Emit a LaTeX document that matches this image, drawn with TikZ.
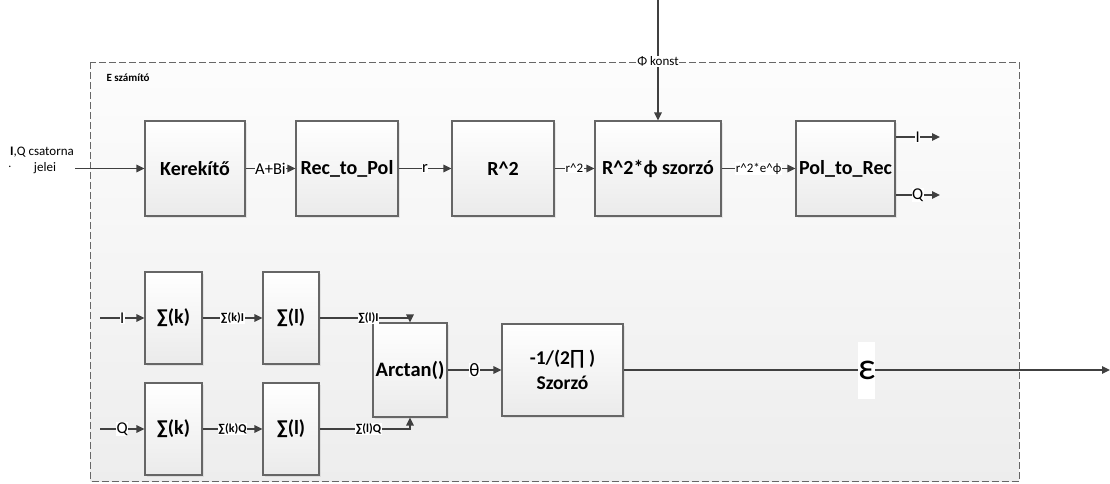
\documentclass[tikz,border=0pt]{standalone}
\usepackage{fontspec}
\setmainfont{Carlito}
\newfontfamily\symfont{DejaVu Sans}
\usetikzlibrary{arrows.meta,shadows}

\begin{document}
\begin{tikzpicture}[
    x=1pt, y=-1pt,
    >={Triangle[length=8pt,width=7.5pt]},
    frame/.style={draw=black!60, dash pattern=on 7pt off 3pt, line width=0.9pt,
      top color=black!1, bottom color=black!7},
    block/.style={draw=black!60, line width=1.1pt, top color=white,
      bottom color=black!8, align=center, inner sep=1pt,
      font=\fontsize{20}{23}\selectfont\bfseries,
      drop shadow={shadow xshift=1.5pt, shadow yshift=-1.5pt, opacity=0.15}},
    wire/.style={draw=black!75, line width=1.3pt, ->},
    tag/.style={fill=white, inner sep=0.6pt, font=\fontsize{16.5}{17}\selectfont},
    smalltag/.style={tag, font=\fontsize{13}{14}\selectfont},
    sumtag/.style={tag, font=\fontsize{12}{13}\selectfont\bfseries},
]
\useasboundingbox (0,0) rectangle (1110,483);

% ---------------------------------------------------------
% E szamito frame
% ---------------------------------------------------------
\path[frame] (90.5,62) rectangle (1019,481);
\node[font=\fontsize{11}{12}\selectfont\bfseries, anchor=west] (etitle)
  at (103,78) {E számító};

% ---------------------------------------------------------
% Upper chain
% ---------------------------------------------------------
\node[block, minimum width=100pt, minimum height=95pt] (ker) at (195,168.5) {Kerekítő};
\node[block, minimum width=102pt, minimum height=95pt] (r2p) at (347,168.5) {Rec\_to\_Pol};
\node[block, minimum width=102pt, minimum height=95pt] (rsq) at (503,168.5) {R\^{}2};
\node[block, minimum width=126pt, minimum height=95pt] (mul) at (658,168.5) {R\^{}2*ϕ szorzó};
\node[block, minimum width=99pt, minimum height=95pt] (p2r) at (845.5,168.5) {Pol\_to\_Rec};

\node[font=\fontsize{13}{16}\selectfont, align=center] (iqlbl) at (42,160)
  {\textbf{I},Q csatorna\\\hspace*{6pt}jelei};
\node[font=\fontsize{12}{12}\selectfont] (dot) at (10,167) {.};

\coordinate (src) at (75,168.5);
\coordinate (phisrc) at (658,0);
\coordinate (iout) at (940,137);
\coordinate (qout) at (940,195);

\draw[wire] (src) -- (ker);
\draw[wire] (ker) -- node[tag]{A+Bi} (r2p);
\draw[wire] (r2p) -- node[tag]{r} (rsq);
\draw[wire] (rsq) -- node[smalltag]{r\^{}2} (mul);
\draw[wire] (mul) -- node[smalltag]{r\^{}2*e\^{}ϕ} (p2r);
\draw[wire] (phisrc) -- node[tag, font=\fontsize{13}{14}\selectfont, pos=0.51]{Φ konst} (mul);
\draw[wire] (p2r.east |- iout) -- node[tag]{I} (iout);
\draw[wire] (p2r.east |- qout) -- node[tag]{Q} (qout);

% ---------------------------------------------------------
% Lower chain
% ---------------------------------------------------------
\node[block, minimum width=57pt, minimum height=92pt] (sk1) at (173.5,318) {∑(k)};
\node[block, minimum width=56pt, minimum height=92pt] (sl1) at (291,318) {∑(l)};
\node[block, minimum width=57pt, minimum height=92pt] (sk2) at (173.5,429) {∑(k)};
\node[block, minimum width=56pt, minimum height=92pt] (sl2) at (291,429) {∑(l)};
\node[block, minimum width=74pt, minimum height=94pt, font=\fontsize{20.5}{23}\selectfont\bfseries]
  (atan) at (410,370) {Arctan()};
\node[block, minimum width=121pt, minimum height=92pt, font=\fontsize{19.5}{25}\selectfont\bfseries]
  (szor) at (562.5,370) {-1/(2{\symfont\mdseries ∏} )\\Szorzó};

\coordinate (iin) at (100,318);
\coordinate (qin) at (100,429);
\coordinate (eout) at (1110,370);

\draw[wire] (iin) -- node[tag]{I} (sk1);
\draw[wire] (qin) -- node[tag]{Q} (sk2);
\draw[wire] (sk1) -- node[sumtag]{∑(k)I} (sl1);
\draw[wire] (sk2) -- node[sumtag]{∑(k)Q} (sl2);
\draw[wire] (sl1) -| node[sumtag, pos=0.27]{∑(l)I} (atan.north);
\draw[wire] (sl2) -| node[sumtag, pos=0.27]{∑(l)Q} (atan.south);
\draw[wire] (atan) -- node[tag, font=\fontsize{19}{20}\selectfont]{θ} (szor);
\draw[wire] (szor) -- node[tag, font=\fontsize{38}{40}\selectfont,
  minimum height=57pt, inner xsep=0pt]{ε} (eout);

\end{tikzpicture}
\end{document}
